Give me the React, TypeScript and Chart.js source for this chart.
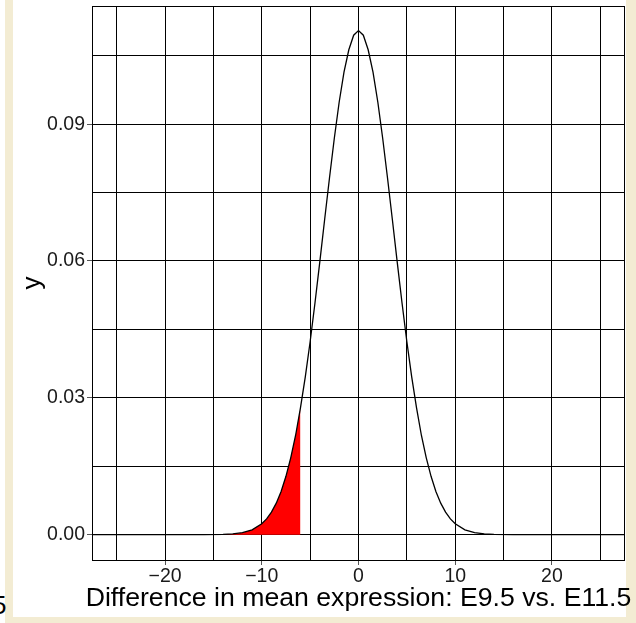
import React, { useEffect, useRef } from "react";
import { Chart, registerables } from "chart.js";

Chart.register(...registerables);

// Difference values along the horizontal axis
const xValues: number[] = [
  -27.5, -20, -16, -14, -13, -12, -11,
  -10, -9.5, -9, -8.5, -8, -7.5, -7, -6.5, -6, -5.5, -5, -4.5, -4, -3.5, -3, -2.5, -2, -1.5, -1, -0.5,
  0,
  0.5, 1, 1.5, 2, 2.5, 3, 3.5, 4, 4.5, 5, 5.5, 6, 6.5, 7, 7.5, 8, 8.5, 9, 9.5, 10,
  11, 12, 13, 14, 16, 20, 27.5,
];

// Density
const densityValues: number[] = [
  0, 0, 0.00001, 0.00006, 0.00017, 0.00044, 0.00106,
  0.00238, 0.00346, 0.00494, 0.00691, 0.00948, 0.0128, 0.0169, 0.0218, 0.0278, 0.0346, 0.0423, 0.0508, 0.0598, 0.0691, 0.0782, 0.0869, 0.0948, 0.1014, 0.1063, 0.1095,
  0.1105,
  0.1095, 0.1063, 0.1014, 0.0948, 0.0869, 0.0782, 0.0691, 0.0598, 0.0508, 0.0423, 0.0346, 0.0278, 0.0218, 0.0169, 0.0128, 0.00948, 0.00691, 0.00494, 0.00346, 0.00238,
  0.00106, 0.00044, 0.00017, 0.00006, 0.00001, 0, 0,
];

// Lower tail that is shaded
const shadeLimit = -6;

const xGridValues: number[] = [-25, -20, -15, -10, -5, 0, 5, 10, 15, 20, 25];
const xTickValues: number[] = [-20, -10, 0, 10, 20];
const xTickLabels: string[] = ["\u221220", "\u221210", "0", "10", "20"];

const yGridValues: number[] = [0, 0.015, 0.03, 0.045, 0.06, 0.075, 0.09, 0.105];
const yTickValues: number[] = [0, 0.03, 0.06, 0.09];
const yTickLabels: string[] = ["0.00", "0.03", "0.06", "0.09"];

const xTitle = "Difference in mean expression: E9.5 vs. E11.5";
const yTitle = "y";

const FONT = "'Liberation Sans', Arial, Helvetica, sans-serif";

function labelFor(values: number[], labels: string[], v: number): string {
  const i = values.findIndex((t) => Math.abs(t - v) < 1e-9);
  return i >= 0 ? labels[i] : "";
}

// Keep the panel edges exactly where the layout padding puts them
function noEdgePadding(s: any) {
  s.paddingTop = 0;
  s.paddingBottom = 0;
  s.paddingLeft = 0;
  s.paddingRight = 0;
}

// Panel frame plus the wide x-axis title (free to run past the panel edges)
const panelDecor = {
  id: "panelDecor",
  afterDraw(chart: Chart) {
    const { ctx, chartArea } = chart;
    ctx.save();
    ctx.strokeStyle = "#000";
    ctx.lineWidth = 1;
    ctx.strokeRect(
      Math.round(chartArea.left) + 0.5,
      Math.round(chartArea.top) + 0.5,
      Math.round(chartArea.right - chartArea.left) - 1,
      Math.round(chartArea.bottom - chartArea.top)
    );
    ctx.restore();

    ctx.save();
    ctx.translate((chartArea.left + chartArea.right) / 2, 606);
    ctx.scale(1.066, 1);
    ctx.font = `25px ${FONT}`;
    ctx.fillStyle = "#000";
    ctx.textAlign = "center";
    ctx.textBaseline = "alphabetic";
    ctx.fillText(xTitle, 0, 0);
    ctx.restore();
  },
};

export default function App() {
  const canvasRef = useRef<HTMLCanvasElement | null>(null);

  useEffect(() => {
    const canvas = canvasRef.current;
    if (!canvas) return;

    const curve = xValues.map((x, i) => ({ x, y: densityValues[i] }));
    const tail = curve.filter((p) => p.x <= shadeLimit);

    const chart = new Chart(canvas, {
      type: "scatter",
      data: {
        datasets: [
          {
            data: tail,
            showLine: true,
            fill: "origin",
            backgroundColor: "#ff0000",
            borderColor: "rgba(0,0,0,0)",
            borderWidth: 0,
            pointRadius: 0,
            order: 2,
          },
          {
            data: curve,
            showLine: true,
            fill: false,
            borderColor: "#000",
            borderWidth: 1.3,
            pointRadius: 0,
            order: 1,
          },
        ],
      },
      options: {
        animation: false,
        responsive: false,
        devicePixelRatio: 1,
        layout: { padding: { top: 6, right: 11, left: 0, bottom: 0 } },
        plugins: {
          legend: { display: false },
          tooltip: { enabled: false },
        },
        scales: {
          x: {
            type: "linear",
            min: -27.55,
            max: 27.55,
            afterBuildTicks: (s: any) => {
              s.ticks = xGridValues.map((v) => ({ value: v }));
            },
            afterFit: (s: any) => {
              s.height = 63;
              noEdgePadding(s);
            },
            border: { display: false },
            grid: {
              color: "#000",
              lineWidth: 1,
              tickLength: 5,
              tickColor: (ctx: any) =>
                labelFor(xTickValues, xTickLabels, ctx.tick?.value) ? "#555" : "rgba(0,0,0,0)",
            },
            ticks: {
              autoSkip: false,
              maxRotation: 0,
              padding: 0,
              color: "#1a1a1a",
              font: { family: FONT, size: 19.5 },
              callback: (v: any) => labelFor(xTickValues, xTickLabels, Number(v)),
            },
            title: { display: false, text: xTitle },
          },
          y: {
            type: "linear",
            min: -0.00555,
            max: 0.1159,
            afterBuildTicks: (s: any) => {
              s.ticks = yGridValues.map((v) => ({ value: v }));
            },
            afterFit: (s: any) => {
              s.width = 92;
              noEdgePadding(s);
            },
            border: { display: false },
            grid: {
              color: "#000",
              lineWidth: 1,
              tickLength: 5,
              tickColor: (ctx: any) =>
                labelFor(yTickValues, yTickLabels, ctx.tick?.value) ? "#555" : "rgba(0,0,0,0)",
            },
            ticks: {
              autoSkip: false,
              padding: 2,
              color: "#1a1a1a",
              font: { family: FONT, size: 19.5 },
              callback: (v: any) => labelFor(yTickValues, yTickLabels, Number(v)),
            },
            title: {
              display: true,
              text: yTitle,
              color: "#000",
              font: { family: FONT, size: 26 },
              padding: { top: 17, bottom: 0 },
            },
          },
        },
      },
      plugins: [panelDecor],
    });

    return () => chart.destroy();
  }, []);

  return (
    <div
      style={{
        position: "fixed",
        left: 0,
        top: 0,
        width: 636,
        height: 623,
        background: "#ffffff",
        overflow: "hidden",
      }}
    >
      <div
        style={{
          position: "absolute",
          left: 5,
          top: 0,
          width: 631,
          height: 623,
          background: "#f3ecd3",
        }}
      />
      <div
        style={{
          position: "absolute",
          left: 13,
          top: 0,
          width: 613,
          height: 617,
          background: "#ffffff",
        }}
      />
      <span
        style={{
          position: "absolute",
          left: -8,
          top: 592,
          fontFamily: FONT,
          fontSize: 26,
          lineHeight: "26px",
          color: "#000",
          whiteSpace: "nowrap",
        }}
      >
        5
      </span>
      <canvas
        ref={canvasRef}
        width={636}
        height={623}
        style={{ position: "absolute", left: 0, top: 0, width: 636, height: 623 }}
      />
    </div>
  );
}
